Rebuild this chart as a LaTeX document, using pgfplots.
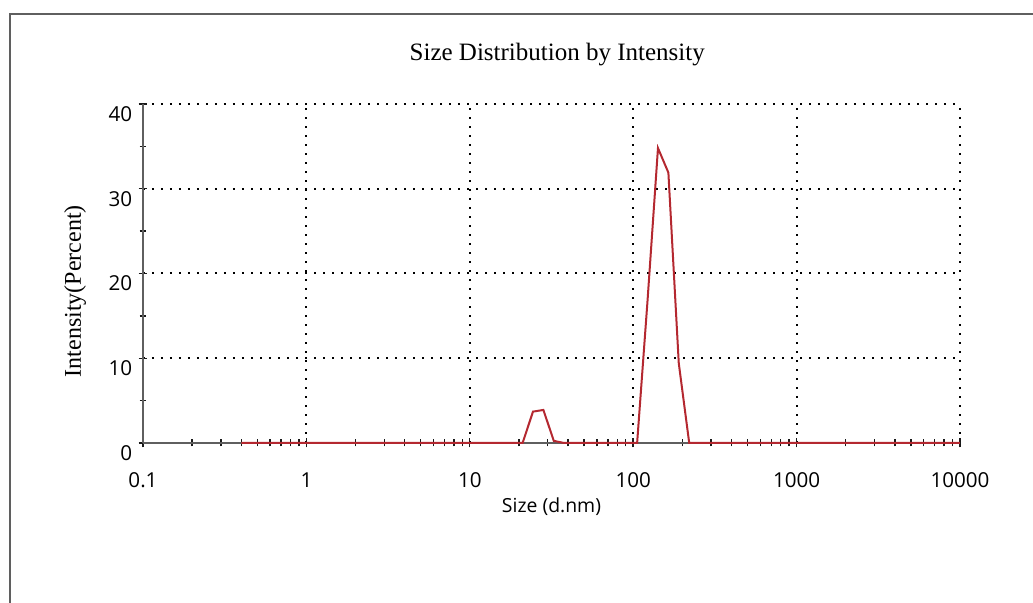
\documentclass[border=0pt]{standalone}
\usepackage{fontspec}
\setmainfont{Liberation Serif}
\newfontfamily\tickfont{Open Sans}
\usepackage{pgfplots}
\usepackage{pgfplotstable}
\pgfplotsset{compat=1.18}
\definecolor{axgray}{RGB}{95,95,95}
\definecolor{datred}{RGB}{180,40,48}
\pgfplotstableread{
size intensity
0.4 0
0.4632 0
0.5365 0
0.6213 0
0.7195 0
0.8332 0
0.9649 0
1.117 0
1.294 0
1.499 0
1.736 0
2.010 0
2.328 0
2.696 0
3.122 0
3.615 0
4.187 0
4.849 0
5.615 0
6.503 0
7.531 0
8.721 0
10.10 0
11.70 0
13.54 0
15.69 0
18.17 0
21.04 0
24.36 3.7
28.21 3.9
32.67 0.25
37.84 0
43.82 0
50.75 0
58.77 0
68.06 0
78.82 0
91.28 0
105.7 0
122.4 16.8
141.8 34.8
164.2 31.9
190.1 9.4
220.2 0
255.0 0
295.3 0
342.0 0
396.1 0
458.7 0
531.2 0
615.1 0
712.4 0
825.0 0
955.4 0
1106 0
1281 0
1484 0
1718 0
1990 0
2305 0
2669 0
3091 0
3580 0
4145 0
4801 0
5560 0
6439 0
7456 0
8635 0
10000 0
}\sizedata
\begin{document}
\begin{tikzpicture}
\path[use as bounding box] (0,0) rectangle (516.5pt,301.5pt);
\draw[axgray, line width=0.8pt] (5pt,0) -- (5pt,294.5pt) -- (516.5pt,294.5pt);
\begin{axis}[
  at={(71.5pt,80pt)}, anchor=south west,
  width=408.5pt, height=169.5pt, scale only axis,
  xmode=log, log basis x=10,
  xmin=0.1, xmax=10000, ymin=0, ymax=40,
  axis x line=bottom, axis y line=left,
  axis line style={axgray, line width=1.1pt, -},
  clip=false,
  xtick={0.1,1,10,100,1000,10000},
  xticklabels={0.1,1,10,100,1000,10000},
  minor xtick={0.2,0.3,0.4,0.5,0.6,0.7,0.8,0.9,2,3,4,5,6,7,8,9,20,30,40,50,60,70,80,90,200,300,400,500,600,700,800,900,2000,3000,4000,5000,6000,7000,8000,9000},
  ytick={0,10,20,30,40},
  minor ytick={5,15,25,35},
  tick align=center,
  major tick length=4.5pt, minor tick length=3.5pt,
  tick style={black!90, line width=0.7pt},
  xmajorgrids, ymajorgrids,
  major grid style={black, line width=1pt, dash pattern=on 0.9pt off 3.6pt},
  /pgf/number format/assume math mode=true,
  tick label style={font=\tickfont\fontsize{10.3}{12}\selectfont},
  xticklabel style={anchor=north, inner sep=0pt, yshift=-12.5pt},
  yticklabel style={anchor=north east, inner sep=0pt, xshift=-3pt, yshift=-1pt},
  title={Size Distribution by Intensity},
  title style={at={(axis description cs:0.507,1.112)}, anchor=center, font=\fontsize{12.5}{14}\selectfont},
  ylabel={Intensity(Percent)},
  ylabel style={at={(axis description cs:-0.083,0.448)}, anchor=center, font=\fontsize{12}{14}\selectfont},
  xlabel={Size (d.nm)},
  xlabel style={at={(axis description cs:0.5,-0.189)}, anchor=center, font=\tickfont\fontsize{9.7}{12}\selectfont},
]
\addplot[datred, line width=1pt, mark=none] table[x=size, y=intensity] {\sizedata};
\end{axis}
\end{tikzpicture}
\end{document}
